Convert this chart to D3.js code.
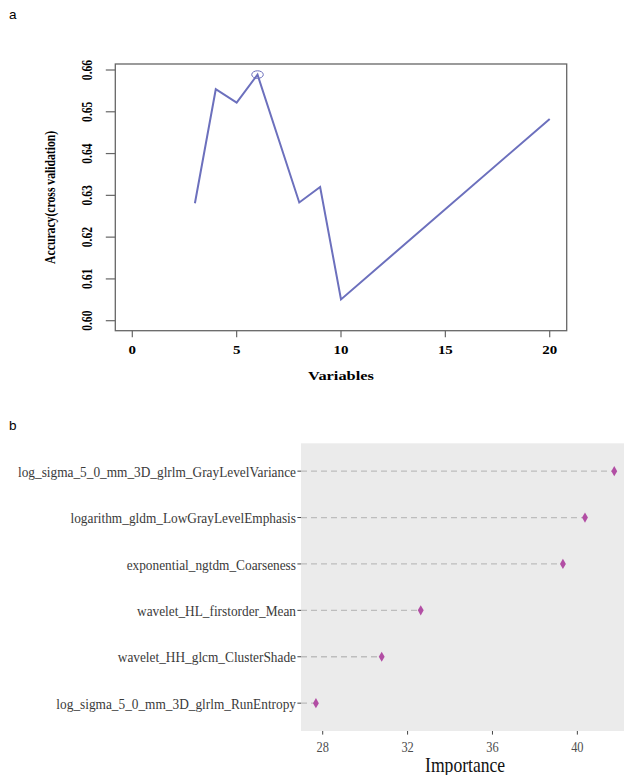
<!DOCTYPE html>
<html>
<head>
<meta charset="utf-8">
<script src="https://cdn.jsdelivr.net/npm/d3@7"></script>
<style>
  body { margin: 0; background: #fff; }
  svg { display: block; }
</style>
</head>
<body>
<div id="chart-area"></div>
<script>
// panel a: rfe accuracy by number of variables
const varSizes = [3, 4, 5, 6, 7, 8, 9, 10, 20]
const accuracy = [0.6281, 0.6554, 0.6522, 0.6589, 0.6436, 0.6283, 0.6320, 0.6051, 0.6483]

// panel b: variable importance
const features = [
	"log_sigma_5_0_mm_3D_glrlm_GrayLevelVariance",
	"logarithm_gldm_LowGrayLevelEmphasis",
	"exponential_ngtdm_Coarseness",
	"wavelet_HL_firstorder_Mean",
	"wavelet_HH_glcm_ClusterShade",
	"log_sigma_5_0_mm_3D_glrlm_RunEntropy"
]
const importance = [41.74, 40.36, 39.32, 32.62, 30.78, 27.68]
const impTicks = [28, 32, 36, 40]

const W = 624, H = 775

const svg = d3.select("#chart-area").append("svg")
	.attr("width", W)
	.attr("height", H)

// panel letters
svg.append("text").attr("x", 9).attr("y", 19.3)
	.attr("font-family", "Liberation Sans, Arial, sans-serif").attr("font-size", "13.5px")
	.text("a")
svg.append("text").attr("x", 9).attr("y", 430)
	.attr("font-family", "Liberation Sans, Arial, sans-serif").attr("font-size", "13.5px")
	.text("b")

/******************************** panel a ********************************/
const A = { LEFT: 115.3, RIGHT: 566.7, TOP: 64, BOTTOM: 330.7 }
const SERIF = "Liberation Serif, Times New Roman, serif"
const STRETCH = 1.3   // the original figure is squashed vertically

const xA = d3.scaleLinear().domain([0, 20]).range([132.3, 549.7])
const yA = d3.scaleLinear().domain([0.60, 0.66]).range([320.7, 70])

const ga = svg.append("g")

// box
ga.append("rect")
	.attr("x", A.LEFT).attr("y", A.TOP)
	.attr("width", A.RIGHT - A.LEFT).attr("height", A.BOTTOM - A.TOP)
	.attr("fill", "none").attr("stroke", "#666").attr("stroke-width", 1.3)

// x axis
const xTicksA = xA.ticks(4)
ga.selectAll(".xtickA").data(xTicksA).enter().append("line")
	.attr("x1", d => xA(d)).attr("x2", d => xA(d))
	.attr("y1", A.BOTTOM).attr("y2", A.BOTTOM + 6.5)
	.attr("stroke", "#666").attr("stroke-width", 1.2)
ga.selectAll(".xlabA").data(xTicksA).enter().append("text")
	.attr("transform", d => `translate(${xA(d)}, 354) scale(${STRETCH}, 1)`)
	.attr("text-anchor", "middle")
	.attr("font-family", SERIF).attr("font-weight", "bold").attr("font-size", "11.5px")
	.text(d => d)

// y axis
const yTicksA = yA.ticks(6)
ga.selectAll(".ytickA").data(yTicksA).enter().append("line")
	.attr("x1", A.LEFT).attr("x2", A.LEFT - 9.5)
	.attr("y1", d => yA(d)).attr("y2", d => yA(d))
	.attr("stroke", "#666").attr("stroke-width", 1.2)
ga.selectAll(".ylabA").data(yTicksA).enter().append("text")
	.attr("transform", d => `translate(91.7, ${yA(d)}) rotate(-90) scale(1, ${STRETCH})`)
	.attr("text-anchor", "middle")
	.attr("font-family", SERIF).attr("font-weight", "bold").attr("font-size", "11.6px")
	.text(d => d3.format(".2f")(d))

// axis titles
ga.append("text")
	.attr("transform", `translate(${(A.LEFT + A.RIGHT) / 2}, 380) scale(${STRETCH}, 1)`)
	.attr("text-anchor", "middle")
	.attr("font-family", SERIF).attr("font-weight", "bold").attr("font-size", "12.6px")
	.text("Variables")
ga.append("text")
	.attr("transform", `translate(54.5, ${(A.TOP + A.BOTTOM) / 2}) rotate(-90) scale(1, ${STRETCH})`)
	.attr("text-anchor", "middle")
	.attr("font-family", SERIF).attr("font-weight", "bold").attr("font-size", "11.7px")
	.text("Accuracy(cross validation)")

// the line
const rows = varSizes.map((v, i) => ({ n: v, acc: accuracy[i] }))
const line = d3.line().x(d => xA(d.n)).y(d => yA(d.acc))
ga.append("path")
	.attr("d", line(rows))
	.attr("fill", "none")
	.attr("stroke", "#6c70bd")
	.attr("stroke-width", 2)
	.attr("stroke-linejoin", "miter")

// best size marked with a circle
const best = rows[d3.maxIndex(rows, d => d.acc)]
ga.append("ellipse")
	.attr("cx", xA(best.n)).attr("cy", yA(best.acc))
	.attr("rx", 5.8).attr("ry", 3.8)
	.attr("fill", "none").attr("stroke", "#6c70bd").attr("stroke-width", 1)

/******************************** panel b ********************************/
const B = { LEFT: 301, TOP: 443.3, BOTTOM: 731 }
const SQUEEZE = 0.86  // horizontally compressed text in the original

const ext = d3.extent(importance)
const pad = (ext[1] - ext[0]) * 0.05
const pxPerUnit = 21.22
const xB = d3.scaleLinear()
	.domain([ext[0] - pad, ext[1] + pad])
	.range([B.LEFT, B.LEFT + (ext[1] - ext[0] + 2 * pad) * pxPerUnit])
const yB = d3.scalePoint().domain(features).range([B.TOP, B.BOTTOM]).padding(0.6)

const gb = svg.append("g")

gb.append("rect")
	.attr("x", B.LEFT).attr("y", B.TOP)
	.attr("width", xB.range()[1] - B.LEFT).attr("height", B.BOTTOM - B.TOP)
	.attr("fill", "#ebebeb")

// dashed segments
gb.selectAll(".seg").data(features).enter().append("line")
	.attr("x1", B.LEFT)
	.attr("x2", (d, i) => xB(importance[i]))
	.attr("y1", d => yB(d)).attr("y2", d => yB(d))
	.attr("stroke", "#bdbdbd").attr("stroke-width", 1.3)
	.attr("stroke-dasharray", "6,4")

// diamonds
gb.selectAll(".pt").data(features).enter().append("path")
	.attr("d", d3.symbol(d3.symbolDiamond, 30))
	.attr("transform", (d, i) => `translate(${xB(importance[i])}, ${yB(d)})`)
	.attr("fill", "#b24ea4")

// y axis
gb.selectAll(".ytickB").data(features).enter().append("line")
	.attr("x1", B.LEFT - 3.6).attr("x2", B.LEFT)
	.attr("y1", d => yB(d)).attr("y2", d => yB(d))
	.attr("stroke", "#444").attr("stroke-width", 1)
gb.selectAll(".ylabB").data(features).enter().append("text")
	.attr("transform", d => `translate(296, ${yB(d) + 5.6}) scale(${SQUEEZE}, 1)`)
	.attr("text-anchor", "end")
	.attr("font-family", SERIF).attr("font-size", "15.5px")
	.attr("fill", "#3a3a3a")
	.text(d => d)

// x axis
gb.selectAll(".xtickB").data(impTicks).enter().append("line")
	.attr("x1", d => xB(d)).attr("x2", d => xB(d))
	.attr("y1", B.BOTTOM).attr("y2", B.BOTTOM + 3.6)
	.attr("stroke", "#444").attr("stroke-width", 1)
gb.selectAll(".xlabB").data(impTicks).enter().append("text")
	.attr("transform", d => `translate(${xB(d)}, 751.7) scale(0.8, 1)`)
	.attr("text-anchor", "middle")
	.attr("font-family", SERIF).attr("font-size", "15.5px")
	.attr("fill", "#4d4d4d")
	.text(d => d)

gb.append("text")
	.attr("transform", `translate(${(B.LEFT + xB.range()[1]) / 2}, 771.7) scale(0.88, 1)`)
	.attr("text-anchor", "middle")
	.attr("font-family", SERIF).attr("font-size", "20px")
	.attr("fill", "#111")
	.text("Importance")
</script>
</body>
</html>
